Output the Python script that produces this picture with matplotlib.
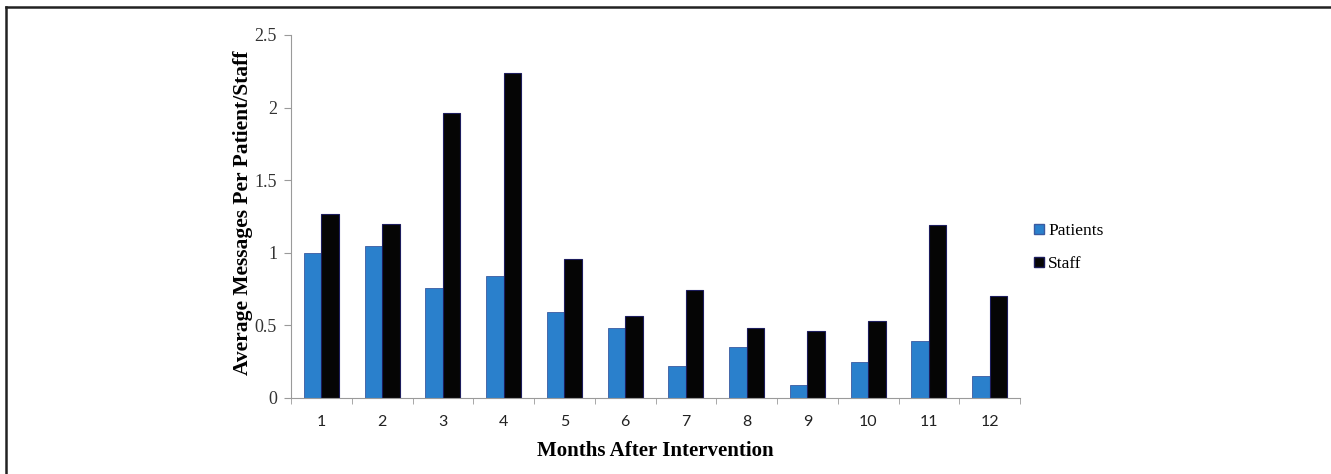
import matplotlib
matplotlib.use("Agg")
import matplotlib.pyplot as plt
import numpy as np
from matplotlib.lines import Line2D

months = ["1", "2", "3", "4", "5", "6", "7", "8", "9", "10", "11", "12"]
patients = [1.00, 1.05, 0.76, 0.84, 0.59, 0.48, 0.22, 0.35, 0.09, 0.25, 0.39, 0.15]
staff = [1.27, 1.20, 1.965, 2.24, 0.96, 0.565, 0.745, 0.485, 0.46, 0.53, 1.19, 0.70]
yticks = [0, 0.5, 1, 1.5, 2, 2.5]
ytick_labels = ["0", "0.5", "1", "1.5", "2", "2.5"]

blue = "#2a80cc"
black = "#050505"
edge = "#1c1c5c"
axis_col = "#9a9a9a"
serif = ["Liberation Serif", "DejaVu Serif"]
plt.rcParams["font.family"] = serif

fig = plt.figure(figsize=(13.31, 4.74), dpi=100)
ax = fig.add_axes([291 / 1331, 1 - 398 / 474, (1020 - 291) / 1331, (398 - 35) / 474])

x = np.arange(len(months))
w = 0.29
ax.bar(x - w / 2, patients, w, color=blue, edgecolor="#3a5aa0", linewidth=0.6, label="Patients")
ax.bar(x + w / 2, staff, w, color=black, edgecolor=edge, linewidth=0.8, label="Staff")

ax.set_xlim(-0.5, len(months) - 0.5)
ax.set_ylim(0, 2.5)

for s in ["top", "right"]:
    ax.spines[s].set_visible(False)
ax.spines["left"].set_color(axis_col)
ax.spines["bottom"].set_color(axis_col)

ax.set_yticks(yticks)
ax.set_yticklabels(ytick_labels, fontsize=13, color="#333333")
ax.tick_params(axis="y", length=5, color=axis_col, pad=5)

ax.set_xticks(x)
ax.set_xticklabels(months, fontfamily=["Lato", "DejaVu Sans"], fontsize=11.5, color="#222222")
ax.tick_params(axis="x", length=0, pad=12)
ax.set_xticks(np.arange(-0.5, len(months) + 0.5, 1), minor=True)
ax.tick_params(axis="x", which="minor", length=4, color=axis_col, direction="out")

ax.set_xlabel("Months After Intervention", fontweight="bold", fontsize=15, labelpad=9)
ax.set_ylabel("Average Messages Per Patient/Staff", fontweight="bold", fontsize=15.5)
ax.yaxis.set_label_coords(-0.052, 0.51)

handles = [
    Line2D([], [], marker="s", linestyle="none", markersize=7, markerfacecolor=blue, markeredgecolor="#3a5aa0"),
    Line2D([], [], marker="s", linestyle="none", markersize=7, markerfacecolor=black, markeredgecolor=edge),
]
leg = fig.legend(handles, ["Patients", "Staff"], loc="upper left", bbox_to_anchor=(1015 / 1331, 1 - 207 / 474),
                 frameon=False, prop={"family": "Liberation Serif", "size": 12.5},
                 handletextpad=0.0, labelspacing=1.0, handlelength=1.0)

# frame lines of the original cropped figure
fig.add_artist(Line2D([6 / 1331, 1.0], [1 - 7 / 474, 1 - 7 / 474], transform=fig.transFigure, color="#222222", linewidth=1.8))
fig.add_artist(Line2D([6 / 1331, 6 / 1331], [0.0, 1 - 7 / 474], transform=fig.transFigure, color="#222222", linewidth=1.8))

fig.savefig("out.png", dpi=100)
